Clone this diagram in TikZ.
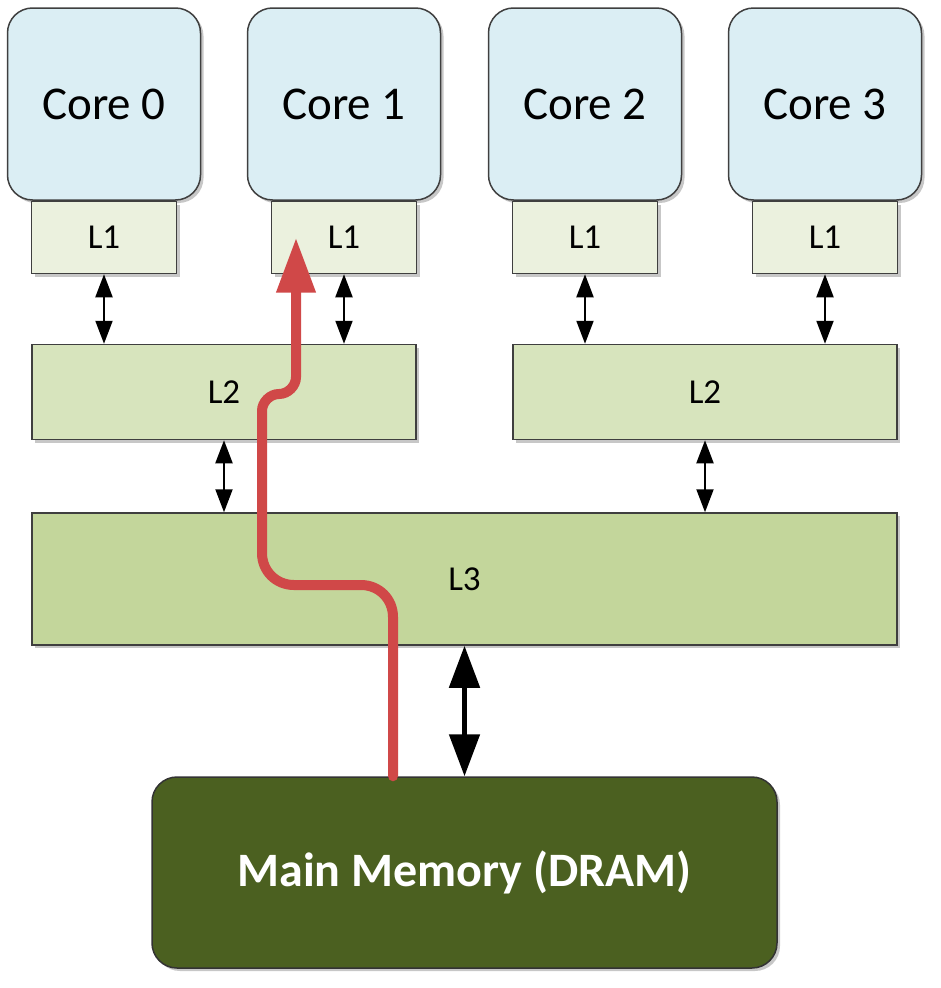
\documentclass[tikz,border=0pt]{standalone}
\usepackage{fontspec}
\setmainfont{Carlito}
\usetikzlibrary{shapes, arrows.meta, shadows, positioning}

\definecolor{corefill}{HTML}{DBEEF4}
\definecolor{lonefill}{HTML}{EBF1DE}
\definecolor{ltwofill}{HTML}{D7E4BD}
\definecolor{lthreefill}{HTML}{C3D69B}
\definecolor{memfill}{HTML}{4B6020}
\definecolor{edge}{HTML}{3F3F3F}
\definecolor{flow}{HTML}{D04848}

\begin{document}
\begin{tikzpicture}[x=1pt, y=-1pt,
  box/.style={draw=edge, line width=1.5pt, drop shadow={shadow xshift=3pt, shadow yshift=-3pt, fill=black, opacity=.22}},
  core/.style={box, fill=corefill, rounded corners=25pt, minimum width=193pt, minimum height=192pt, font=\fontsize{47}{54}\selectfont},
  lone/.style={box, fill=lonefill, minimum width=145pt, minimum height=72pt, font=\fontsize{35}{40}\selectfont},
  ltwo/.style={box, fill=ltwofill, minimum width=384pt, minimum height=95pt, font=\fontsize{35}{40}\selectfont},
  lthree/.style={box, fill=lthreefill, minimum width=865pt, minimum height=132pt, font=\fontsize{35}{40}\selectfont},
  mem/.style={box, draw=black!80, fill=memfill, rounded corners=25pt, minimum width=625pt, minimum height=191pt, text=white, font=\fontsize{48}{56}\selectfont\bfseries},
  link/.style={{Triangle[width=17pt,length=23pt]}-{Triangle[width=17pt,length=23pt]}, line width=2pt},
  biglink/.style={{Triangle[width=30pt,length=42pt]}-{Triangle[width=30pt,length=42pt]}, line width=5pt},
  dataflow/.style={-{Triangle[width=37pt,length=55pt]}, draw=flow, line width=10pt, line cap=round}]

  \useasboundingbox (0,0) rectangle (940,988);

  \node[core] (core0) at (104,104) {Core 0};
  \node[lone, below=0pt of core0] (lone0) {L1};
  \node[core] (core1) at (344,104) {Core 1};
  \node[lone, below=0pt of core1] (lone1) {L1};
  \node[core] (core2) at (585,104) {Core 2};
  \node[lone, below=0pt of core2] (lone2) {L1};
  \node[core] (core3) at (825,104) {Core 3};
  \node[lone, below=0pt of core3] (lone3) {L1};

  \node[ltwo] (ltwoa) at (224,392) {L2};
  \node[ltwo] (ltwob) at (705,392) {L2};
  \node[lthree] (lthree) at (464.5,579) {L3};
  \node[mem] (mem) at (464.5,872.5) {Main Memory (DRAM)};

  \draw[link] (lone0.south) -- (lone0.south |- ltwoa.north);
  \draw[link] (lone1.south) -- (lone1.south |- ltwoa.north);
  \draw[link] (lone2.south) -- (lone2.south |- ltwob.north);
  \draw[link] (lone3.south) -- (lone3.south |- ltwob.north);
  \draw[link] (ltwoa.south) -- (ltwoa.south |- lthree.north);
  \draw[link] (ltwob.south) -- (ltwob.south |- lthree.north);
  \draw[biglink] (lthree.south) -- (mem.north);

  \coordinate (start) at ([xshift=-71.5pt]mem.north);
  \coordinate (tip) at ([xshift=-48pt]lone1.center);
  \draw[dataflow] (start) -- (393,617) .. controls (393,599) and (379,585) .. (361,585)
    -- (294,585) .. controls (276,585) and (262,571) .. (262,553)
    -- (262,411) .. controls (262,402) and (270,394) .. (279,394)
    .. controls (288,394) and (296,386) .. (296,377) -- (tip);
\end{tikzpicture}
\end{document}
